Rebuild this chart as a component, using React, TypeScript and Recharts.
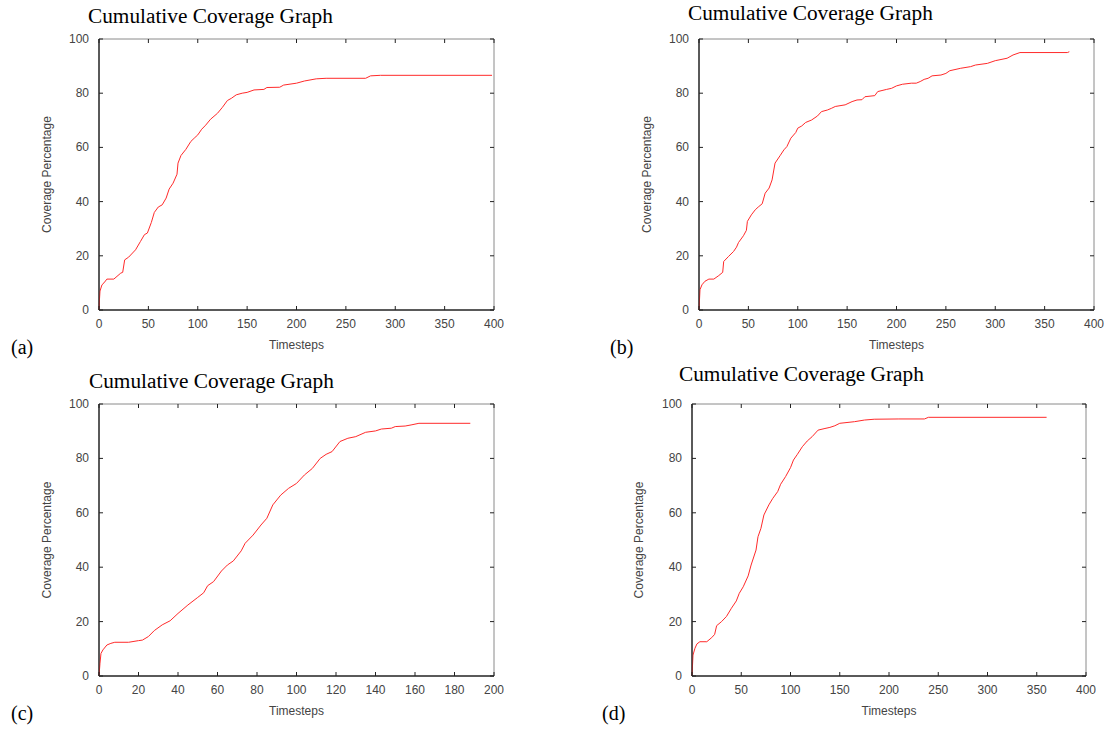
import { LineChart, Line, XAxis, YAxis, ReferenceLine } from "recharts";

// values
const timestepsA = [0, 0.5, 1, 3, 5, 8, 15, 22, 24, 26, 30, 37, 42, 46, 49, 53, 56, 60, 64, 68, 71, 75, 79, 80, 83, 88, 93, 97, 100, 104, 108, 113, 120, 125, 130, 134, 139, 145, 150, 157, 167, 170, 183, 187, 200, 208, 220, 230, 270, 275, 285, 398];
const coverageA = [0, 4, 7, 9.3, 10, 11.4, 11.4, 13.6, 13.9, 18.5, 19.5, 22.2, 25.3, 27.8, 28.4, 32.3, 36, 38, 38.8, 41.3, 44.6, 46.8, 50.1, 54.2, 57, 59.3, 62.2, 63.6, 64.6, 66.7, 68.2, 70.4, 72.6, 74.8, 77.3, 78.1, 79.4, 80, 80.3, 81.2, 81.4, 82.1, 82.2, 83, 83.7, 84.5, 85.3, 85.5, 85.5, 86.4, 86.6, 86.6];

const timestepsB = [0, 1, 3, 6, 10, 15, 20, 24, 25, 30, 35, 38, 40, 45, 48, 49, 53, 57, 60, 64, 67, 71, 74, 77, 82, 86, 89, 93, 98, 100, 104, 108, 114, 120, 124, 130, 134, 138, 148, 155, 160, 165, 168, 178, 181, 190, 195, 200, 206, 215, 220, 224, 228, 232, 236, 245, 250, 254, 265, 275, 280, 292, 300, 312, 318, 325, 373, 375];
const coverageB = [0, 7.5, 9.3, 10.6, 11.4, 11.4, 12.7, 13.9, 17.9, 19.8, 21.6, 23.2, 24.9, 27.4, 29.4, 32.7, 35.1, 37, 38, 39.2, 43.1, 45, 48, 54.2, 56.9, 59.1, 60.3, 63.4, 65.5, 67.1, 67.9, 69.2, 70.1, 71.6, 73.2, 73.8, 74.4, 75.1, 75.7, 76.9, 77.5, 77.6, 78.7, 79.1, 80.6, 81.4, 81.8, 82.7, 83.3, 83.7, 83.7, 84.3, 85.1, 85.5, 86.4, 86.7, 87.3, 88.3, 89.2, 89.8, 90.4, 91, 92, 92.9, 94.1, 95, 95, 95.3];

const timestepsC = [0, 0.5, 1, 2, 4, 6, 8, 15, 20, 22, 25, 28, 32, 36, 40, 45, 50, 53, 55, 58, 62, 65, 68, 72, 74, 78, 82, 85, 88, 92, 96, 100, 104, 108, 112, 115, 118, 122, 126, 130, 135, 140, 143, 148, 150, 155, 158, 162, 188];
const coverageC = [0, 4.7, 8.3, 9.6, 11.4, 12, 12.4, 12.4, 13, 13.2, 14.5, 16.7, 18.8, 20.3, 23, 26.1, 28.9, 30.6, 33.2, 34.7, 38.6, 40.8, 42.3, 46, 48.8, 51.8, 55.5, 58, 62.9, 66.5, 69, 70.8, 73.9, 76.3, 80, 81.5, 82.5, 86.2, 87.4, 88, 89.6, 90.1, 90.8, 91.1, 91.7, 91.9, 92.3, 92.9, 92.9];

const timestepsD = [0, 1, 3, 5, 8, 15, 20, 23, 25, 30, 35, 40, 45, 48, 52, 57, 60, 65, 67, 70, 73, 78, 82, 87, 90, 95, 100, 103, 107, 112, 117, 122, 128, 135, 140, 145, 150, 165, 175, 185, 210, 236, 240, 360];
const coverageD = [0, 7.7, 10.2, 11.8, 12.6, 12.6, 14.1, 15.3, 18.5, 20, 21.9, 24.9, 27.6, 30.4, 32.8, 36.8, 40.8, 46.3, 51.2, 54.3, 59.2, 62.9, 65.3, 67.8, 70.5, 73.3, 76.6, 79.4, 81.5, 84.3, 86.4, 88, 90.4, 91, 91.4, 92, 92.9, 93.5, 94.1, 94.4, 94.5, 94.5, 95.1, 95.1];

const ticks400 = [0, 50, 100, 150, 200, 250, 300, 350, 400];
const ticks200 = [0, 20, 40, 60, 80, 100, 120, 140, 160, 180, 200];
const yTicks = [0, 20, 40, 60, 80, 100];

const TITLE = "Cumulative Coverage Graph";
const SANS = "'Liberation Sans', Arial, sans-serif";
const SERIF = "'Liberation Serif', 'Times New Roman', serif";
const DARK = "#222";
const LIGHT = "#8a8a8a";
const TXT = "#444";

const toRows = (t: number[], c: number[]) => t.map((v, i) => ({ t: v, cov: c[i] }));

const panels = [
  { letter: "(a)", rows: toRows(timestepsA, coverageA), xMax: 400, xTicks: ticks400, box: [99, 39, 494, 310], titleAt: [88, 22.5], letterAt: [11, 354], yLabX: 46.5 },
  { letter: "(b)", rows: toRows(timestepsB, coverageB), xMax: 400, xTicks: ticks400, box: [699, 39, 1094, 310], titleAt: [688, 20], letterAt: [610, 354], yLabX: 646.5 },
  { letter: "(c)", rows: toRows(timestepsC, coverageC), xMax: 200, xTicks: ticks200, box: [99, 404, 494, 676], titleAt: [89, 388], letterAt: [11, 720], yLabX: 46.5 },
  { letter: "(d)", rows: toRows(timestepsD, coverageD), xMax: 400, xTicks: ticks400, box: [692, 404, 1086, 676], titleAt: [679, 381], letterAt: [602, 719.5], yLabX: 638.5 },
];

// gnuplot style: ticks point inward, mirrored on the top and right borders
const makeBottomTick = (h: number) => (p: any) => (
  <g>
    <line x1={p.x} x2={p.x} y1={p.y} y2={p.y - 4} stroke={DARK} strokeWidth={1} />
    <line x1={p.x} x2={p.x} y1={p.y - h} y2={p.y - h + 4} stroke={DARK} strokeWidth={1} />
    <text x={p.x} y={p.y + 18} textAnchor="middle" fill={TXT} stroke="none" fontSize={12} fontFamily={SANS}>
      {p.payload.value}
    </text>
  </g>
);
const makeLeftTick = (w: number) => (p: any) => (
  <g>
    <line x1={p.x} x2={p.x + 4} y1={p.y} y2={p.y} stroke={DARK} strokeWidth={1} />
    <line x1={p.x + w} x2={p.x + w - 4} y1={p.y} y2={p.y} stroke={DARK} strokeWidth={1} />
    <text x={p.x - 10} y={p.y + 4} textAnchor="end" fill={TXT} stroke="none" fontSize={12} fontFamily={SANS}>
      {p.payload.value}
    </text>
  </g>
);

function Panel({ rows, xMax, xTicks, box }: any) {
  const [l, t, r, b] = box;
  const w = r - l;
  const h = b - t;
  return (
    <div style={{ position: "absolute", left: l - 60, top: t - 10 }}>
      <LineChart width={w + 70} height={h + 40} data={rows} margin={{ top: 10, right: 10, bottom: 0, left: 0 }}>
        <XAxis dataKey="t" type="number" domain={[0, xMax]} ticks={xTicks} height={30} tickSize={0} tickMargin={0} tickLine={false} axisLine={{ stroke: DARK, strokeWidth: 1 }} tick={makeBottomTick(h)} interval={0} />
        <YAxis type="number" domain={[0, 100]} ticks={yTicks} width={60} tickSize={0} tickMargin={0} tickLine={false} axisLine={{ stroke: DARK, strokeWidth: 1 }} tick={makeLeftTick(w)} interval={0} />
        <ReferenceLine y={100} stroke={LIGHT} strokeWidth={1} ifOverflow="visible" />
        <ReferenceLine x={xMax} stroke={LIGHT} strokeWidth={1} ifOverflow="visible" />
        <ReferenceLine y={0} stroke={DARK} strokeWidth={1} ifOverflow="visible" />
        <ReferenceLine x={0} stroke={DARK} strokeWidth={1} ifOverflow="visible" />
        <Line dataKey="cov" type="linear" stroke="#ff2a2a" strokeWidth={1} dot={false} isAnimationActive={false} />
      </LineChart>
    </div>
  );
}

export default function App() {
  return (
    <div style={{ position: "absolute", left: 0, top: 0, width: 1105, height: 729, background: "#fff", overflow: "hidden" }}>
      {panels.map((p) => (
        <Panel key={p.letter} {...p} />
      ))}
      <svg width={1105} height={729} style={{ position: "absolute", left: 0, top: 0, pointerEvents: "none" }}>
        {panels.map((p) => {
          const [l, t, r, b] = p.box;
          const cy = (t + b) / 2;
          return (
            <g key={p.letter}>
              <text x={p.titleAt[0]} y={p.titleAt[1]} fontFamily={SERIF} fontSize={21.3} fill="#000">{TITLE}</text>
              <text x={p.letterAt[0]} y={p.letterAt[1]} fontFamily={SERIF} fontSize={20} fill="#000">{p.letter}</text>
              <text x={(l + r) / 2} y={b + 39} textAnchor="middle" fontFamily={SANS} fontSize={12} fill={TXT}>Timesteps</text>
              <text x={p.yLabX} y={cy} transform={`rotate(-90 ${p.yLabX} ${cy})`} textAnchor="middle" dominantBaseline="central" fontFamily={SANS} fontSize={12} fill={TXT}>Coverage Percentage</text>
            </g>
          );
        })}
      </svg>
    </div>
  );
}
